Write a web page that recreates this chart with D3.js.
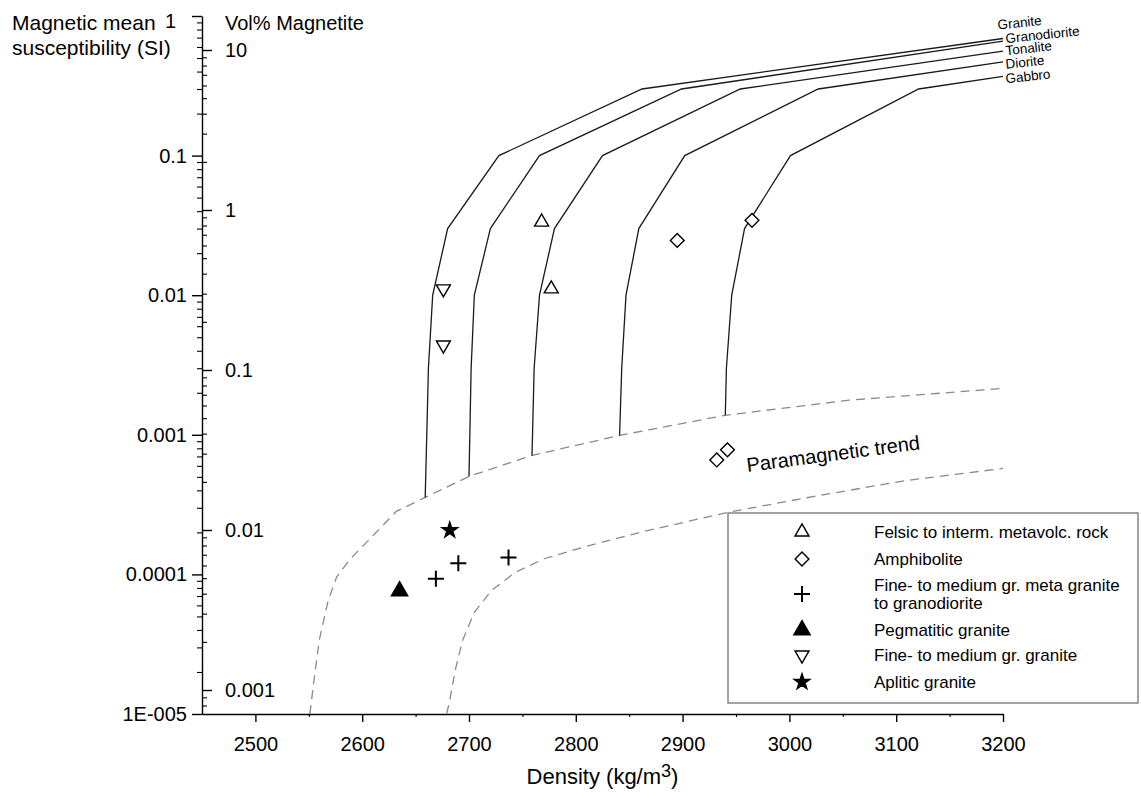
<!DOCTYPE html>
<html>
<head>
<meta charset="utf-8">
<script src="https://cdn.jsdelivr.net/npm/d3@7"></script>
<style>
  body { margin: 0; background: #fff; }
  svg { font-family: "Liberation Sans", Arial, sans-serif; }
  .axis path, .axis line { stroke: #000; stroke-width: 1.4; }
  .axis text { font-size: 20px; fill: #000; }
  .minor line { stroke-width: 1.1; }
</style>
</head>
<body>
<svg id="chart" width="1141" height="796"></svg>
<script>
// ---- data ----
const xTickValues = [2500, 2600, 2700, 2800, 2900, 3000, 3100, 3200];
const xMinorValues = [2550, 2650, 2750, 2850, 2950, 3050, 3150];
const siTickValues = [1, 0.1, 0.01, 0.001, 0.0001, 0.00001];
const siTickLabels = ["1", "0.1", "0.01", "0.001", "0.0001", "1E-005"];
const volTickValues = [10, 1, 0.1, 0.01, 0.001];
const volTickLabels = ["10", "1", "0.1", "0.01", "0.001"];

const rockNames = ["Granite", "Granodiorite", "Tonalite", "Diorite", "Gabbro"];
const granite      = [[2659, 3.56e-4], [2662, 0.003], [2666, 0.01], [2680, 0.03], [2728, 0.1], [2862, 0.3], [3200, 0.69]];
const granodiorite = [[2700, 5.03e-4], [2702, 0.003], [2705, 0.01], [2720, 0.03], [2766, 0.1], [2899, 0.3], [3200, 0.66]];
const tonalite     = [[2759, 7.12e-4], [2761, 0.003], [2766, 0.01], [2780, 0.03], [2825, 0.1], [2954, 0.3], [3200, 0.56]];
const diorite      = [[2841, 9.9e-4], [2843, 0.003], [2847, 0.01], [2859, 0.03], [2902, 0.1], [3027, 0.3], [3200, 0.47]];
const gabbro       = [[2940, 1.38e-3], [2941, 0.003], [2946, 0.01], [2958, 0.03], [3001, 0.1], [3121, 0.3], [3200, 0.37]];

// paramagnetic trend envelope
const paraUpper = [[2551, 1e-5], [2556, 2.05e-5], [2560, 3.44e-5], [2568, 6.44e-5], [2576, 9.57e-5], [2588, 1.27e-4],
                   [2607, 1.79e-4], [2632, 2.83e-4], [2659, 3.56e-4], [2700, 5.03e-4], [2759, 7.12e-4], [2841, 9.9e-4],
                   [2940, 1.38e-3], [3056, 1.77e-3], [3200, 2.15e-3]];
const paraLower = [[2679, 1e-5], [2682, 1.25e-5], [2687, 2.05e-5], [2694, 3.37e-5], [2705, 5.35e-5], [2721, 7.67e-5],
                   [2743, 1.03e-4], [2771, 1.3e-4], [2806, 1.56e-4], [2860, 2.0e-4], [2942, 2.78e-4], [3028, 3.68e-4],
                   [3110, 4.71e-4], [3200, 5.74e-4]];

// samples: [density, susceptibility]
const felsic      = [[2768, 0.0334], [2777, 0.0111]];
const amphibolite = [[2895, 0.0247], [2965, 0.0344], [2932, 6.6e-4], [2942, 7.8e-4]];
const metaGranite = [[2669, 9.3e-5], [2690, 1.2e-4], [2737, 1.32e-4]];
const pegmatite   = [[2635, 7.6e-5]];
const fineGranite = [[2676, 0.0111], [2676, 0.0044]];
const aplite      = [[2682, 2.07e-4]];

const legendLabels = [["Felsic to interm. metavolc. rock"], ["Amphibolite"],
                      ["Fine- to medium gr. meta granite", "to granodiorite"], ["Pegmatitic granite"],
                      ["Fine- to medium gr. granite"], ["Aplitic granite"]];

// ---- layout ----
const svg = d3.select("#chart"),
      margin = {top: 16, right: 138, bottom: 82, left: 202},
      width = +svg.attr("width") - margin.left - margin.right,
      height = +svg.attr("height") - margin.top - margin.bottom;

const g = svg.append("g").attr("transform", `translate(${margin.left},${margin.top})`);

const x = d3.scaleLinear().domain([2450, 3200]).range([0, width]);
const ySI = d3.scaleLog().domain([1e-5, 1]).range([height, 0]);
const yVol = d3.scaleLog().domain([0.001, 10]).range([674, 34]);

const decadesMinor = (lo, hi) => {
  const out = [];
  for (let e = lo; e < hi; e++) for (let m = 2; m <= 9; m++) out.push(m * Math.pow(10, e));
  return out;
};
const siMinor = decadesMinor(-5, 0);
const volMinor = decadesMinor(-4, 2).filter(v => yVol(v) >= 0 && yVol(v) <= height);

// ---- axes ----
g.append("g").attr("class", "axis minor")
  .call(d3.axisLeft(ySI).tickValues(siMinor).tickSize(5).tickFormat("").tickSizeOuter(0))
  .select(".domain").remove();
g.append("g").attr("class", "axis minor")
  .call(d3.axisRight(yVol).tickValues(volMinor).tickSize(5).tickFormat("").tickSizeOuter(0))
  .select(".domain").remove();

const siAxis = g.append("g").attr("class", "axis")
  .call(d3.axisLeft(ySI).tickValues(siTickValues).tickSize(10).tickPadding(5)
        .tickFormat((d, i) => siTickLabels[i]).tickSizeOuter(0));
// the top "1" sits a little further left and lower in the original
siAxis.selectAll(".tick text").filter(d => d === 1).attr("x", -26).attr("dy", "0.55em");

const volAxis = g.append("g").attr("class", "axis")
  .call(d3.axisRight(yVol).tickValues(volTickValues).tickSize(10).tickPadding(13)
        .tickFormat((d, i) => volTickLabels[i]).tickSizeOuter(0));
volAxis.select(".domain").remove();

g.append("g").attr("class", "axis minor")
  .attr("transform", `translate(0,${height})`)
  .call(d3.axisBottom(x).tickValues(xMinorValues).tickSize(3).tickFormat("").tickSizeOuter(0))
  .select(".domain").remove();
g.append("g").attr("class", "axis")
  .attr("transform", `translate(0,${height})`)
  .call(d3.axisBottom(x).tickValues(xTickValues).tickSize(8).tickPadding(15)
        .tickFormat(d3.format("d")).tickSizeOuter(0));

// axis titles
svg.append("text").attr("x", 12).attr("y", 30).style("font-size", "21px").text("Magnetic mean");
svg.append("text").attr("x", 12).attr("y", 55).style("font-size", "21px").text("susceptibility (SI)");
svg.append("text").attr("x", 225).attr("y", 30).style("font-size", "20px").text("Vol% Magnetite");

const xt = svg.append("text")
  .attr("x", margin.left + width / 2).attr("y", 784)
  .attr("text-anchor", "middle").style("font-size", "22px");
xt.append("tspan").text("Density (kg/m");
xt.append("tspan").attr("dy", -7).style("font-size", "18px").text("3");
xt.append("tspan").attr("dy", 7).text(")");

// ---- paramagnetic envelope ----
const line = d3.line().x(d => x(d[0])).y(d => ySI(d[1]));
[paraUpper, paraLower].forEach(arr => {
  g.append("path").datum(arr)
    .attr("d", line)
    .attr("fill", "none")
    .attr("stroke", "#8a8a8a")
    .attr("stroke-width", 1.3)
    .attr("stroke-dasharray", "9,6");
});

// ---- rock curves ----
const curves = [granite, granodiorite, tonalite, diorite, gabbro];
const labelDy = [-9, 2, 4, 7, 7];
curves.forEach((arr, i) => {
  g.append("path").datum(arr)
    .attr("d", line)
    .attr("fill", "none")
    .attr("stroke", "#1a1a1a")
    .attr("stroke-width", 1.3);
  const end = arr[arr.length - 1];
  const lx = x(end[0]) + (i === 0 ? -5 : 3), ly = ySI(end[1]) + labelDy[i];
  g.append("text")
    .attr("transform", `translate(${lx},${ly}) rotate(-6)`)
    .style("font-size", "13.5px")
    .text(rockNames[i]);
});

// annotation
g.append("text")
  .attr("transform", `translate(${x(2943) + 19},${ySI(6.6e-4) + 12}) rotate(-7.5)`)
  .style("font-size", "20px")
  .text("Paramagnetic trend");

// ---- markers ----
const symbolPath = {
  triUp:   {path: d3.symbol(d3.symbolTriangle, 85)(), rot: 0,   fill: "#fff"},
  diamond: {path: d3.symbol(d3.symbolSquare, 95)(),   rot: 45,  fill: "#fff"},
  plus:    {path: "M-8,0H8M0,-8V8",                   rot: 0,   fill: "none"},
  triFill: {path: d3.symbol(d3.symbolTriangle, 115)(), rot: 0,  fill: "#000"},
  triDown: {path: d3.symbol(d3.symbolTriangle, 85)(), rot: 180, fill: "#fff"},
  star:    {path: d3.symbol(d3.symbolStar, 75)(),     rot: 0,   fill: "#000"}
};
const symbolKeys = ["triUp", "diamond", "plus", "triFill", "triDown", "star"];
const groups = [felsic, amphibolite, metaGranite, pegmatite, fineGranite, aplite];

groups.forEach((arr, i) => {
  const s = symbolPath[symbolKeys[i]];
  g.selectAll(null).data(arr).enter().append("path")
    .attr("d", s.path)
    .attr("transform", d => `translate(${x(d[0])},${ySI(d[1])}) rotate(${s.rot})`)
    .attr("fill", s.fill)
    .attr("stroke", "#000")
    .attr("stroke-width", symbolKeys[i] === "plus" ? 2 : 1.4);
});

// ---- legend ----
const legend = svg.append("g").attr("transform", "translate(728,513)");
legend.append("rect").attr("width", 410).attr("height", 190)
  .attr("fill", "#fff").attr("stroke", "#666").attr("stroke-width", 1.2);
const rowY = [19, 46, 81, 117, 142, 169];
legendLabels.forEach((lines, i) => {
  const s = symbolPath[symbolKeys[i]];
  legend.append("path")
    .attr("d", s.path)
    .attr("transform", `translate(74,${rowY[i]}) rotate(${s.rot})`)
    .attr("fill", s.fill).attr("stroke", "#000")
    .attr("stroke-width", symbolKeys[i] === "plus" ? 2 : 1.4);
  lines.forEach((t, j) => {
    legend.append("text")
      .attr("x", 146)
      .attr("y", rowY[i] + (lines.length > 1 ? (j - 0.5) * 18 : 0))
      .attr("dy", "0.36em")
      .style("font-size", "17px")
      .text(t);
  });
});
</script>
</body>
</html>
